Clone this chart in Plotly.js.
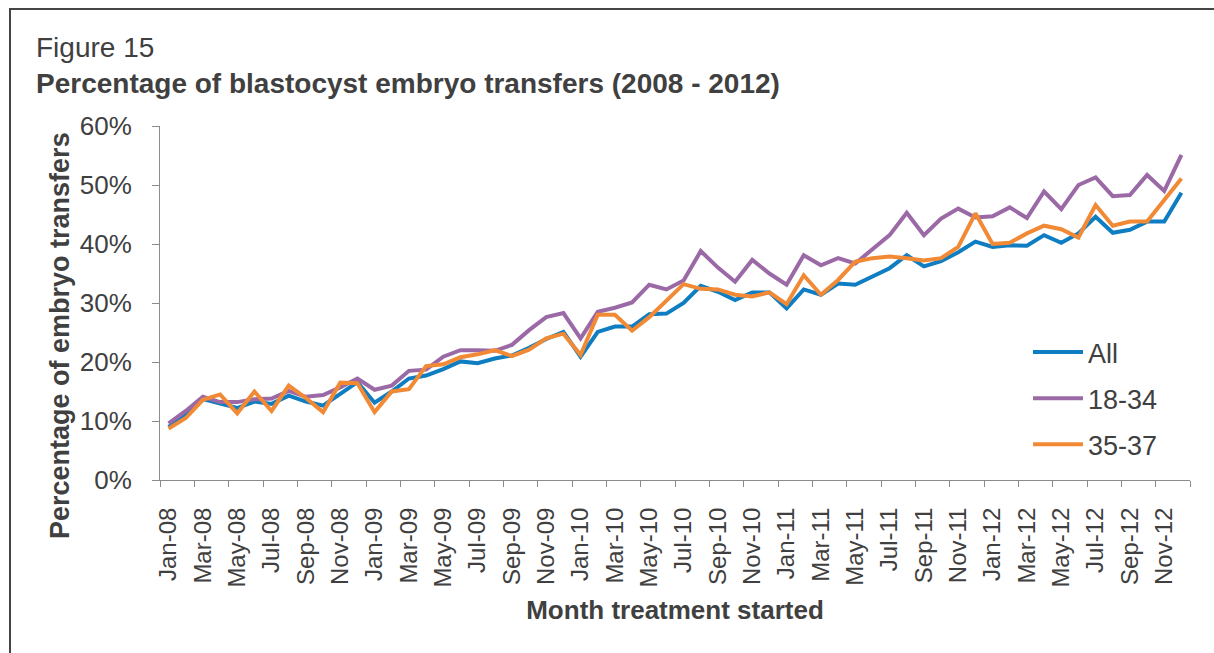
<!DOCTYPE html>
<html>
<head>
<meta charset="utf-8">
<script src="https://cdn.plot.ly/plotly-3.0.1.min.js"></script>
<style>
  html, body { margin: 0; padding: 0; background: #ffffff; overflow: hidden; }
  #wrap { position: relative; width: 1214px; height: 653px; }
  #chart { width: 1214px; height: 653px; }
  #frame { position: absolute; left: 9px; top: 8px; right: -20px; bottom: -20px;
           border-left: 2px solid #454545; border-top: 2px solid #454545; pointer-events: none; }
</style>
</head>
<body>
<div id="wrap">
  <div id="chart"></div>
  <div id="frame"></div>
</div>
<script>
// ---- data (percent of embryo transfers that were blastocyst transfers) ----
const months = [
  'Jan-08','Feb-08','Mar-08','Apr-08','May-08','Jun-08','Jul-08','Aug-08','Sep-08','Oct-08','Nov-08','Dec-08',
  'Jan-09','Feb-09','Mar-09','Apr-09','May-09','Jun-09','Jul-09','Aug-09','Sep-09','Oct-09','Nov-09','Dec-09',
  'Jan-10','Feb-10','Mar-10','Apr-10','May-10','Jun-10','Jul-10','Aug-10','Sep-10','Oct-10','Nov-10','Dec-10',
  'Jan-11','Feb-11','Mar-11','Apr-11','May-11','Jun-11','Jul-11','Aug-11','Sep-11','Oct-11','Nov-11','Dec-11',
  'Jan-12','Feb-12','Mar-12','Apr-12','May-12','Jun-12','Jul-12','Aug-12','Sep-12','Oct-12','Nov-12','Dec-12'
];

const allAges = [
  9.0, 11.0, 13.7, 13.0, 12.2, 13.3, 12.9, 14.3, 13.3, 12.6, 14.6, 16.6,
  13.1, 15.0, 17.2, 17.7, 18.8, 20.1, 19.8, 20.6, 21.1, 22.4, 23.9, 25.1,
  20.9, 25.1, 26.0, 26.0, 28.1, 28.2, 30.0, 32.9, 31.9, 30.5, 31.8, 31.8,
  29.1, 32.3, 31.4, 33.3, 33.1, 34.5, 35.9, 38.1, 36.2, 37.1, 38.6, 40.4,
  39.5, 39.8, 39.7, 41.5, 40.2, 41.8, 44.6, 41.9, 42.4, 43.8, 43.8, 48.7
];

const age18to34 = [
  9.6, 11.7, 14.1, 13.2, 13.2, 13.7, 13.8, 15.1, 14.1, 14.4, 15.7, 17.2,
  15.3, 16.0, 18.5, 18.7, 20.9, 22.0, 22.0, 21.9, 22.9, 25.4, 27.6, 28.3,
  24.0, 28.5, 29.2, 30.1, 33.1, 32.3, 33.8, 38.8, 36.0, 33.6, 37.3, 35.0,
  33.1, 38.1, 36.4, 37.6, 36.7, 39.0, 41.5, 45.3, 41.5, 44.3, 46.0, 44.5,
  44.7, 46.2, 44.4, 48.9, 45.9, 50.0, 51.3, 48.1, 48.3, 51.7, 49.0, 55.1
];

const age35to37 = [
  8.7, 10.5, 13.6, 14.5, 11.3, 15.0, 11.7, 16.0, 13.9, 11.5, 16.5, 16.4,
  11.5, 15.0, 15.4, 19.3, 19.6, 20.8, 21.3, 22.0, 21.0, 22.1, 24.0, 24.8,
  21.2, 28.0, 28.0, 25.3, 27.6, 30.3, 33.2, 32.4, 32.3, 31.4, 31.1, 31.8,
  29.8, 34.7, 31.4, 33.9, 37.0, 37.6, 37.9, 37.6, 37.2, 37.6, 39.5, 45.2,
  40.0, 40.2, 41.8, 43.1, 42.5, 41.1, 46.6, 43.1, 43.8, 43.8, 47.5, 51.1
];

const seriesNames = ['All', '18-34', '35-37'];
const seriesColors = ['#0f7dc2', '#9b6aa6', '#f28a35'];
const seriesValues = [allAges, age18to34, age35to37];

// ---- chart ----
const FONT = 'Arial, "Liberation Sans", sans-serif';
const TXT = '#404040';

const traces = seriesNames.map((name, k) => ({
  type: 'scatter',
  mode: 'lines',
  name: name,
  legendgroup: 'g' + k,
  x: months,
  y: seriesValues[k],
  line: { color: seriesColors[k], width: 4, shape: 'linear' },
  hoverinfo: 'x+y+name'
}));

const layout = {
  width: 1214,
  height: 653,
  paper_bgcolor: '#ffffff',
  plot_bgcolor: '#ffffff',
  margin: { l: 160, r: 24, t: 126, b: 173, pad: 0 },
  font: { family: FONT, color: TXT, size: 24 },
  showlegend: true,
  title: {
    text: 'Figure 15<br><b>Percentage of blastocyst embryo transfers (2008 - 2012)</b>',
    font: { family: FONT, size: 28, color: TXT },
    xref: 'container', x: 36 / 1214, xanchor: 'left',
    yref: 'container', y: 1 - 57 / 653, yanchor: 'top',
    pad: { t: 0, l: 0 }
  },
  xaxis: {
    type: 'category',
    range: [-0.5, months.length - 0.5],
    tickmode: 'linear', tick0: 0, dtick: 2,
    tickson: 'boundaries',
    ticks: 'outside', ticklen: 6, tickcolor: '#8c8c8c', tickwidth: 1,
    tickangle: -90,
    tickfont: { family: FONT, size: 24, color: TXT },
    ticklabelstandoff: 17,
    showline: true, linecolor: '#8c8c8c', linewidth: 1,
    showgrid: false, zeroline: false,
    fixedrange: true,
    title: {
      text: '<b>Month treatment started</b>',
      font: { family: FONT, size: 26, color: TXT },
      standoff: 14
    },
    automargin: false
  },
  yaxis: {
    range: [0, 60],
    tickmode: 'linear', tick0: 0, dtick: 10,
    ticksuffix: '%',
    ticks: 'outside', ticklen: 7, tickcolor: '#8c8c8c', tickwidth: 1,
    tickfont: { family: FONT, size: 26, color: TXT },
    ticklabelstandoff: 15,
    showline: true, linecolor: '#8c8c8c', linewidth: 1,
    showgrid: false, zeroline: false,
    fixedrange: true,
    automargin: false
  },
  annotations: [{
    text: '<b>Percentage of embryo transfers</b>',
    textangle: -90,
    font: { family: FONT, size: 27, color: TXT },
    xref: 'paper', yref: 'paper',
    x: (60 - 160) / 1030, y: (480 - 336) / 354,
    xanchor: 'center', yanchor: 'middle',
    showarrow: false
  }],
  legend: {
    x: (1028 - 160) / 1030, xanchor: 'left',
    y: (480 - 328) / 354, yanchor: 'top',
    bgcolor: 'rgba(0,0,0,0)', borderwidth: 0,
    font: { family: FONT, size: 27, color: TXT },
    traceorder: 'grouped', tracegroupgap: 8,
    itemwidth: 50
  }
};

Plotly.newPlot('chart', traces, layout, { displayModeBar: false, staticPlot: true });
</script>
</body>
</html>
